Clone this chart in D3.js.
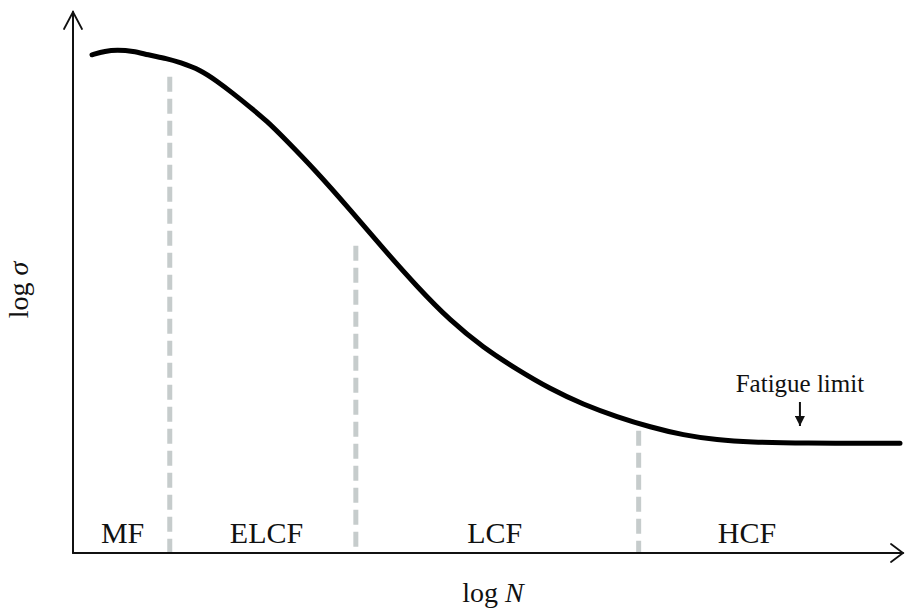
<!DOCTYPE html>
<html>
<head>
<meta charset="utf-8">
<script src="https://cdn.jsdelivr.net/npm/d3@7/dist/d3.min.js"></script>
<style>
  html, body { margin: 0; padding: 0; background: #fff; }
  svg { display: block; }
  text { font-family: "Liberation Serif", "Times New Roman", serif; fill: #111; }
</style>
</head>
<body>
<svg id="chart" width="905" height="608"></svg>
<script>
// S–N curve, log N (x) vs log σ (y), in arbitrary log units 0..10
const curveLogN = [0.23, 0.23, 0.39, 0.53, 0.73, 0.90, 1.14, 1.29, 1.54, 1.74, 1.93, 2.14, 2.35, 2.54,
                   2.95, 3.35, 3.75, 4.16, 4.56, 4.96, 5.37, 5.77, 6.17, 6.58, 6.98, 7.38, 7.79,
                   8.19, 8.79, 10.0, 10.0];
const curveLogS = [9.26, 9.26, 9.33, 9.35, 9.33, 9.26, 9.19, 9.12, 8.98, 8.77, 8.55, 8.29, 8.02, 7.73,
                   7.08, 6.38, 5.66, 4.95, 4.32, 3.82, 3.41, 3.05, 2.76, 2.53, 2.34, 2.19, 2.10,
                   2.06, 2.04, 2.04, 2.04];

// Regime boundaries (log N) and the height where each dashed divider starts
const boundaryLogN = [1.17, 3.42, 6.84];
const boundaryTop  = [8.85, 5.71, 2.27];

// Regime labels and their centre positions along log N
const regimeNames = ["MF", "ELCF", "LCF", "HCF"];
const regimeCentre = [0.60, 2.34, 5.10, 8.15];

// Fatigue limit annotation position (log N)
const fatigueLimitLogN = 8.79;

const svg = d3.select("#chart");

const x = d3.scaleLinear().domain([0, 10]).range([73, 900]);
const y = d3.scaleLinear().domain([0, 10]).range([553, 15]);

svg.append("defs").append("marker")
  .attr("id", "solidHead")
  .attr("viewBox", "0 0 10 10")
  .attr("refX", 10).attr("refY", 5)
  .attr("markerWidth", 10).attr("markerHeight", 10)
  .attr("markerUnits", "userSpaceOnUse")
  .attr("orient", "auto")
  .append("path").attr("d", "M0,0 L10,5 L0,10 Z").attr("fill", "#111");

// Axes with open arrowheads
const axes = svg.append("g").attr("stroke", "#111").attr("stroke-width", 2).attr("fill", "none")
  .attr("stroke-linecap", "round");
const ox = x(0), oy = y(0);
const topY = 12, rightX = 903;
axes.append("line").attr("x1", ox).attr("y1", oy).attr("x2", ox).attr("y2", topY);
axes.append("path").attr("d", `M${ox - 9},${topY + 17} L${ox},${topY} L${ox + 9},${topY + 17}`)
  .attr("stroke-width", 1.8);
axes.append("line").attr("x1", ox).attr("y1", oy).attr("x2", rightX).attr("y2", oy);
axes.append("path").attr("d", `M${rightX - 12},${oy - 9} L${rightX},${oy} L${rightX - 12},${oy + 9}`)
  .attr("stroke-width", 1.8);

// Dashed regime dividers
svg.append("g").selectAll("line")
  .data(boundaryLogN)
  .join("line")
  .attr("x1", d => x(d)).attr("x2", d => x(d))
  .attr("y1", (d, i) => y(boundaryTop[i]))
  .attr("y2", oy - 1)
  .attr("stroke", "#c6cccc")
  .attr("stroke-width", 5)
  .attr("stroke-dasharray", "15,7");

// S–N curve (B-spline through the sampled points for a smooth stroke)
const pts = curveLogN.map((d, i) => [d, curveLogS[i]]);
svg.append("path")
  .datum(pts)
  .attr("fill", "none")
  .attr("stroke", "#000")
  .attr("stroke-width", 5)
  .attr("stroke-linecap", "round")
  .attr("stroke-linejoin", "round")
  .attr("d", d3.line().x(d => x(d[0])).y(d => y(d[1])).curve(d3.curveBasis));

// Regime labels
svg.append("g").selectAll("text")
  .data(regimeNames)
  .join("text")
  .attr("x", (d, i) => x(regimeCentre[i]))
  .attr("y", oy - 10)
  .attr("text-anchor", "middle")
  .attr("font-size", 30)
  .text(d => d);

// Fatigue limit annotation
const flX = x(fatigueLimitLogN);
svg.append("text")
  .attr("x", flX).attr("y", 392)
  .attr("text-anchor", "middle")
  .attr("font-size", 25)
  .text("Fatigue limit");
svg.append("line")
  .attr("x1", flX).attr("x2", flX)
  .attr("y1", 402).attr("y2", 426)
  .attr("stroke", "#111").attr("stroke-width", 2)
  .attr("marker-end", "url(#solidHead)");

// Axis titles
const xt = svg.append("text")
  .attr("x", 493).attr("y", 602)
  .attr("text-anchor", "middle")
  .attr("font-size", 28);
xt.append("tspan").text("log ");
xt.append("tspan").attr("font-style", "italic").text("N");

const yt = svg.append("text")
  .attr("transform", "translate(28,290) rotate(-90)")
  .attr("text-anchor", "middle")
  .attr("font-size", 28);
yt.append("tspan").text("log ");
yt.append("tspan").attr("font-style", "italic").text("σ");
</script>
</body>
</html>
